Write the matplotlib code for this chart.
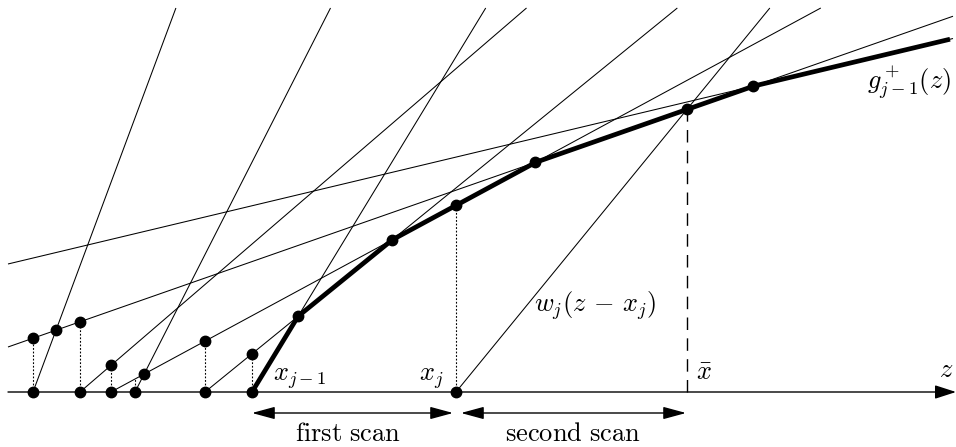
import numpy as np
import matplotlib
matplotlib.use("Agg")
import matplotlib.pyplot as plt
from matplotlib.patches import FancyArrowPatch

plt.rcParams['mathtext.fontset'] = 'cm'
plt.rcParams['font.family'] = ['DejaVu Serif']

# ---- data: straight lines h(z) = slope * (z - root) ----
line_names = ["S1", "A", "D", "S2", "L2", "L1", "W", "B", "C"]
line_roots = [33, 80, 111, 135, 205, 252, 456, -120.6, -528.5]
line_slopes = [2.687, 0.86, 0.541, 1.964, 0.813, 1.643, 1.2236, 0.35, 0.2386]

# lines forming the concave envelope g^+_{j-1}
envelope_lines = ["L1", "L2", "D", "B", "C"]
env_start, env_end = 252, 950

# points on the z axis and the line their dotted stem reaches
base_points = [33, 80, 111, 135, 205, 252, 456]
base_support = ["B", "B", "A", "D", "D", "L2", "D"]
base_has_dot = [True, True, True, False, True, True, True]

# intersections marked with dots
crossings = [("S1", "B"), ("S2", "D"), ("L1", "L2"), ("L2", "D"),
             ("D", "B"), ("B", "C"), ("W", "B")]
xbar_pair = ("W", "B")

x_left, x_right, h_top = 8, 953, 384

lines = {n: (r, s) for n, r, s in zip(line_names, line_roots, line_slopes)}


def h(name, z):
    r, s = lines[name]
    return s * (np.asarray(z) - r)


def cross(a, b):
    ra, sa = lines[a]
    rb, sb = lines[b]
    z = (sa * ra - sb * rb) / (sa - sb)
    return z, h(a, z)


fig = plt.figure(figsize=(9.56, 4.47), dpi=100)
ax = fig.add_axes([0, 0, 1, 1])
ax.set_xlim(0, 956)
ax.set_ylim(-55, 392)
ax.axis('off')

# thin lines
for n in line_names:
    r, s = lines[n]
    z0 = max(r, x_left)
    z1 = min(r + h_top / s, x_right)
    ax.plot([z0, z1], [h(n, z0), h(n, z1)], color='black', lw=0.75,
            solid_capstyle='butt', zorder=2)

# envelope (thick)
zz = np.linspace(env_start, env_end, 3000)
gg = np.min([h(n, zz) for n in envelope_lines], axis=0)
ax.plot(zz, gg, color='black', lw=3.4, solid_capstyle='butt', zorder=3)

# dotted stems + dots
for zb, sup, hd in zip(base_points, base_support, base_has_dot):
    top = float(h(sup, zb))
    ax.plot([zb, zb], [0, top], color='black', lw=0.8,
            linestyle=(0, (1.6, 1.6)), zorder=2)
    ax.plot(zb, 0, 'o', color='black', ms=7.5, zorder=5)
    if hd:
        ax.plot(zb, top, 'o', color='black', ms=7.5, zorder=5)

for a, b in crossings:
    z, hz = cross(a, b)
    ax.plot(z, hz, 'o', color='black', ms=7.5, zorder=5)

# x bar dashed
zb, hb = cross(*xbar_pair)
ax.plot([zb, zb], [0, hb], color='black', lw=1.0, dashes=(9, 6), zorder=2)

# z axis
ax.add_patch(FancyArrowPatch((x_left, 0), (956, 0),
                             arrowstyle='-|>,head_length=13,head_width=4.2',
                             mutation_scale=1, color='black', lw=1.0,
                             shrinkA=0, shrinkB=0, zorder=4))

# scan arrows
ax.add_patch(FancyArrowPatch((252, -21), (453, -21),
                             arrowstyle='<|-|>,head_length=14,head_width=3.8',
                             mutation_scale=1, color='black', lw=1.0,
                             shrinkA=0, shrinkB=0, zorder=4))
ax.add_patch(FancyArrowPatch((461, -21), (zb - 1, -21),
                             arrowstyle='<|-|>,head_length=14,head_width=3.8',
                             mutation_scale=1, color='black', lw=1.0,
                             shrinkA=0, shrinkB=0, zorder=4))

fs = 19
ax.text(273, 11, r'$x_{j-1}$', fontsize=fs, ha='left', va='baseline')
ax.text(419, 11, r'$x_j$', fontsize=fs, ha='left', va='baseline')
ax.text(696, 12, r'$\bar{x}$', fontsize=fs, ha='left', va='baseline')
ax.text(953, 15, r'$z$', fontsize=fs, ha='right', va='baseline')
ax.text(951, 303, r'$g^+_{j-1}(z)$', fontsize=fs, ha='right', va='baseline')
ax.text(534, 80, r'$w_j(z\,-\,x_j)$', fontsize=fs, ha='left', va='baseline')
ax.text(348, -49, r'$\mathrm{first\ scan}$', fontsize=fs, ha='center', va='baseline')
ax.text(573, -49, r'$\mathrm{second\ scan}$', fontsize=fs, ha='center', va='baseline')

fig.savefig('out.png', dpi=100)
